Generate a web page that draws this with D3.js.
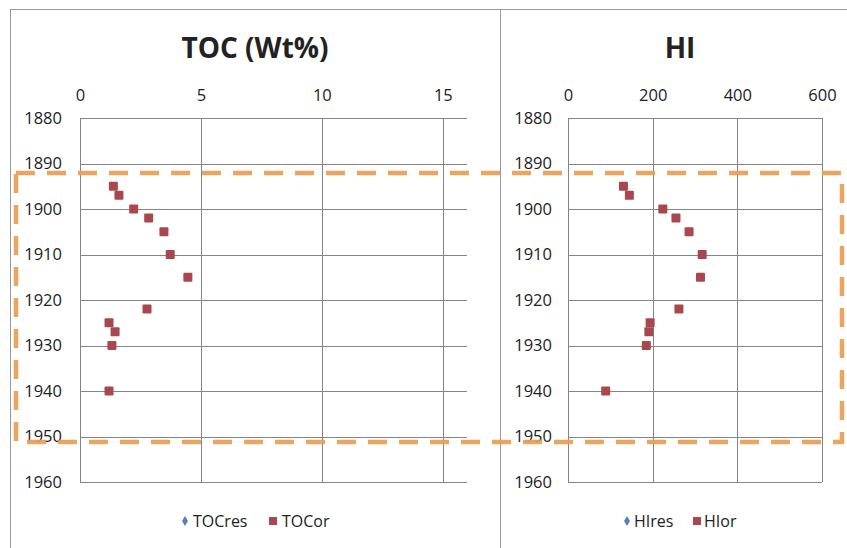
<!DOCTYPE html>
<html>
<head>
<meta charset="utf-8">
<script src="https://cdn.jsdelivr.net/npm/d3@7"></script>
<style>
  html, body { margin: 0; padding: 0; background: #fff; }
  svg { display: block; }
  text { font-family: "Open Sans", "Liberation Sans", sans-serif; fill: #222; }
</style>
</head>
<body>
<svg id="chart" width="847" height="548"></svg>
<script>
// Sampling depths expressed as years
const years = [1895, 1897, 1900, 1902, 1905, 1910, 1915, 1922, 1925, 1927, 1930, 1940];
// Total organic carbon, weight percent
const tocOr = [1.38, 1.61, 2.22, 2.84, 3.47, 3.73, 4.46, 2.77, 1.20, 1.45, 1.32, 1.20];
const tocRes = [];
// Hydrogen index
const hiOr = [131, 145, 224, 255, 286, 317, 313, 262, 194, 191, 185, 89];
const hiRes = [];

const yearTicks = [1880, 1890, 1900, 1910, 1920, 1930, 1940, 1950, 1960];
const tocTicks = [0, 5, 10, 15];
const hiTicks = [0, 200, 400, 600];

const svg = d3.select("#chart");
const gridColor = "#858585";
const resColor = "#4f81bd";
const orColor = "#a8484e";

// outer frames of the two chart objects
svg.append("rect").attr("x", 10.5).attr("y", 9.5).attr("width", 490).attr("height", 560)
  .attr("fill", "none").attr("stroke", "#9a9a9a").attr("stroke-width", 1);
svg.append("rect").attr("x", 500.5).attr("y", 9.5).attr("width", 400).attr("height", 560)
  .attr("fill", "none").attr("stroke", "#9a9a9a").attr("stroke-width", 1);

const y = d3.scaleLinear().domain([1880, 1960]).range([118, 482]);

const panels = [
  { title: "TOC (Wt%)", x: d3.scaleLinear().domain([0, 16]).range([80, 467]), ticks: tocTicks,
    yLabelX: 62, titleX: 255, res: tocRes, or: tocOr, resName: "TOCres", orName: "TOCor",
    legend: [185, 193, 273, 282] },
  { title: "HI", x: d3.scaleLinear().domain([0, 600]).range([568, 822]), ticks: hiTicks,
    yLabelX: 552, titleX: 680, res: hiRes, or: hiOr, resName: "HIres", orName: "HIor",
    legend: [627, 634, 697, 704] }
];

panels.forEach(p => {
  const g = svg.append("g");
  const [x0, x1] = p.x.range();

  // title
  g.append("text").attr("x", p.titleX).attr("y", 58).attr("text-anchor", "middle")
    .attr("font-size", 28).attr("font-weight", "bold").attr("fill", "#111").text(p.title);

  // horizontal gridlines (years)
  const yAxis = d3.axisLeft(y).tickValues(yearTicks).tickSize(-(x1 - x0)).tickFormat(d3.format("d")).tickPadding(x0 - p.yLabelX);
  const ya = g.append("g").attr("transform", `translate(${x0},0)`).call(yAxis);
  ya.select(".domain").remove();
  ya.selectAll(".tick line").attr("stroke", gridColor).attr("shape-rendering", "crispEdges");
  ya.selectAll(".tick text").attr("font-size", 16.5).attr("fill", "#1a1a1a")
    .attr("font-family", "'Open Sans', sans-serif");

  // vertical gridlines and top tick labels
  const xAxis = d3.axisTop(p.x).tickValues(p.ticks).tickSize(-(y.range()[1] - y.range()[0])).tickPadding(17).tickFormat(d3.format("d"));
  const xa = g.append("g").attr("transform", `translate(0,${y.range()[0]})`).call(xAxis);
  xa.select(".domain").remove();
  xa.selectAll(".tick line").attr("stroke", gridColor).attr("shape-rendering", "crispEdges");
  xa.selectAll(".tick text").attr("font-size", 16.5).attr("fill", "#1a1a1a")
    .attr("font-family", "'Open Sans', sans-serif");

  // data markers
  g.selectAll(".res").data(p.res).join("path").attr("class", "res")
    .attr("d", d3.symbol(d3.symbolDiamond, 40))
    .attr("transform", (d, i) => `translate(${p.x(d)},${y(years[i])})`).attr("fill", resColor);
  g.selectAll(".or").data(p.or).join("rect").attr("class", "or")
    .attr("x", d => p.x(d) - 4.5).attr("y", (d, i) => y(years[i]) - 4.5)
    .attr("width", 9).attr("height", 9).attr("rx", 1).attr("fill", orColor);

  // legend
  const ly = 521;
  const [dx, tx, sx, tx2] = p.legend;
  g.append("path").attr("d", d3.symbol(d3.symbolDiamond, 30)).attr("transform", `translate(${dx},${ly})`).attr("fill", resColor);
  g.append("text").attr("x", tx).attr("y", ly).attr("dy", "0.35em").attr("font-size", 16).text(p.resName);
  g.append("rect").attr("x", sx - 4).attr("y", ly - 4).attr("width", 8).attr("height", 8).attr("fill", orColor);
  g.append("text").attr("x", tx2).attr("y", ly).attr("dy", "0.35em").attr("font-size", 16).text(p.orName);
});

// dashed highlight box around the sampled interval
svg.append("rect").attr("x", 16).attr("y", 173).attr("width", 826).attr("height", 269)
  .attr("fill", "none").attr("stroke", "#e89d52").attr("stroke-opacity", 0.92)
  .attr("stroke-width", 4.5).attr("stroke-dasharray", "19 12");
</script>
</body>
</html>
